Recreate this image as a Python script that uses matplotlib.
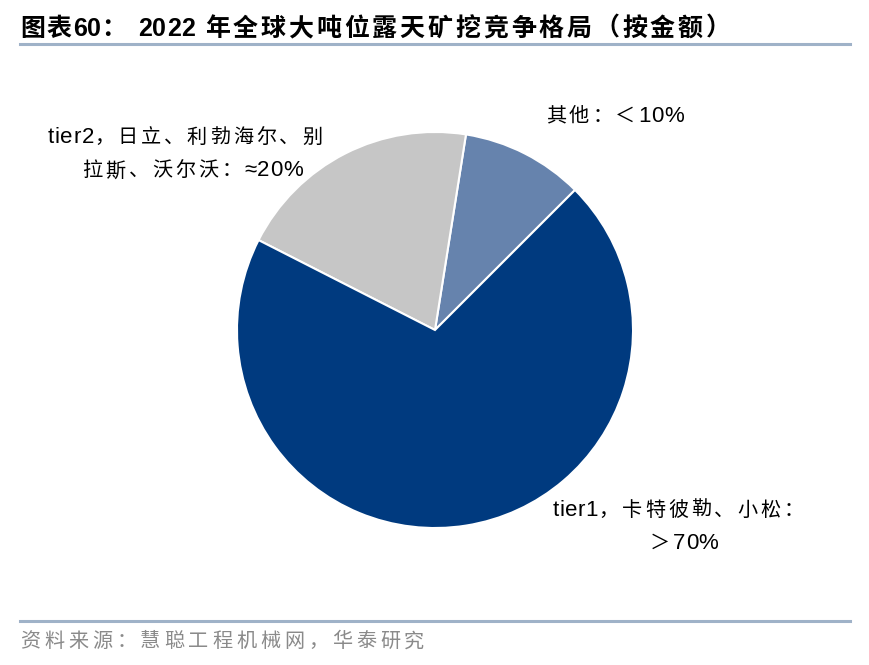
import matplotlib
matplotlib.use('Agg')
import matplotlib.pyplot as plt
import matplotlib.lines as mlines

plt.rcParams['font.family'] = ['Liberation Sans', 'Noto Sans CJK SC']

# slices, counter-clockwise from 45 degrees
shares = [10, 20, 70]
colors = ['#6683AD', '#C6C6C6', '#003A7F']

title_head = '图表60：'
title_year = '2022'
title_body = '年全球大吨位露天矿挖竞争格局（按金额）'
source = '资料来源：慧聪工程机械网，华泰研究'
label_other = '其他：＜10%'
label_tier2 = ['tier2，日立、利勃海尔、别', '拉斯、沃尔沃：≈20%']
label_tier1 = ['tier1，卡特彼勒、小松：', '＞70%']

W, H = 870, 665
fig = plt.figure(figsize=(W / 100, H / 100), dpi=100)
renderer = fig.canvas.get_renderer()


def fx(px):
    return px / W


def fy(py):
    return 1 - py / H


def spaced(x, y, s, size, track, ha='left', lsize=None, ltrack=None, **kw):
    # text with extra letter spacing, y is the visual centre in pixels
    # latin chars can get their own size and spacing
    if lsize is None:
        lsize = size
    if ltrack is None:
        ltrack = track
    parts = []
    for ch in s:
        latin = ord(ch) < 128 or ch == '≈'
        sz = lsize if latin else size
        tr = ltrack if latin else track
        t = fig.text(0, 0, ch, fontsize=sz, **kw)
        parts.append((ch, sz, tr, t.get_window_extent(renderer).width))
        t.remove()
    total = sum(p[3] + p[2] for p in parts) - parts[-1][2]
    if ha == 'center':
        x0 = x - total / 2
    elif ha == 'right':
        x0 = x - total
    else:
        x0 = x
    base = y + 0.36 * size * 100 / 72
    for ch, sz, tr, w in parts:
        fig.text(fx(x0), fy(base), ch, fontsize=sz, va='baseline',
                 ha='left', **kw)
        x0 += w + tr


# pie axes: centre (435, 330), radius 200 px
cx, cy, r = 435, 330, 200
ax = fig.add_axes([fx(cx - r), fy(cy + r), 2 * r / W, 2 * r / H])
ax.pie(shares, colors=colors, startangle=45, counterclock=True,
       wedgeprops=dict(edgecolor='white', linewidth=1.5))
ax.set_xlim(-1.01, 1.01)
ax.set_ylim(-1.01, 1.01)
ax.set_aspect('equal')
ax.axis('off')

# title and rules
tkw = dict(fontweight='bold', color='black')
spaced(20, 27, title_head, 18, 1.5, ltrack=0.3, **tkw)
spaced(138, 27, title_year, 18, 0.5, **tkw)
spaced(205, 27, title_body, 18, 2.8, **tkw)
fig.add_artist(mlines.Line2D([fx(20), fx(850)], [fy(44), fy(44)],
                             color='#9FB2C8', linewidth=2.2))
fig.add_artist(mlines.Line2D([fx(20), fx(850)], [fy(621), fy(621)],
                             color='#9FB2C8', linewidth=2.2))
spaced(20, 640, source, 14.5, 3.9, color='#8A8A8A')

# labels
lkw = dict(color='black', lsize=16, ltrack=0.6)
spaced(48, 136, label_tier2[0], 14.5, 3.0, **lkw)
spaced(303, 169, label_tier2[1], 14.5, 3.0, ha='right', **lkw)
spaced(615, 115, label_other, 14.5, 3.0, ha='center', **lkw)
spaced(678, 509, label_tier1[0], 14.5, 3.0, ha='center', **lkw)
spaced(684, 542, label_tier1[1], 14.5, 3.0, ha='center', **lkw)

fig.savefig('out.png', dpi=100, facecolor='white')
